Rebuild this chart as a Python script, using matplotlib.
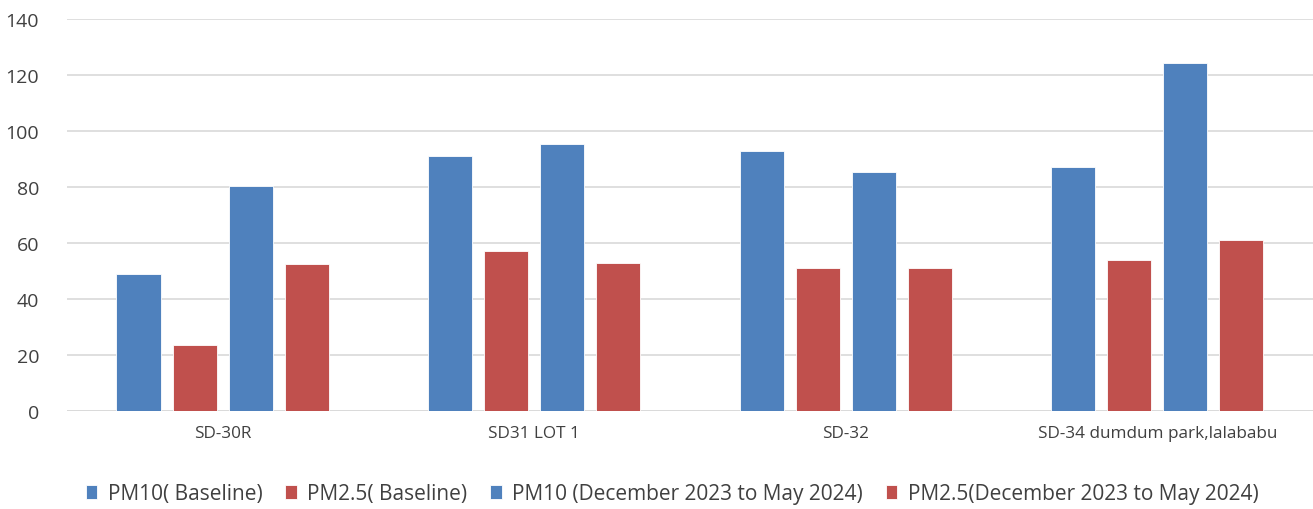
import numpy as np
import matplotlib.pyplot as plt

plt.rcParams['font.family'] = ['Open Sans', 'DejaVu Sans']

# data
sites = ['SD-30R', 'SD31 LOT 1', 'SD-32', 'SD-34 dumdum park,lalababu']
series_names = ['PM10( Baseline)', 'PM2.5( Baseline)',
                'PM10 (December 2023 to May 2024)', 'PM2.5(December 2023 to May 2024)']
pm10_base = [48.8, 91.0, 93.0, 87.1]
pm25_base = [23.7, 57.0, 51.0, 54.0]
pm10_dec_may = [80.2, 95.5, 85.5, 124.4]
pm25_dec_may = [52.6, 53.0, 51.0, 61.0]
colors = ['#4F81BD', '#C0504D', '#4F81BD', '#C0504D']

fig = plt.figure(figsize=(13.13, 5.10), dpi=100)
ax = fig.add_axes([0.051, 0.192, 0.949, 0.769])

x = np.arange(len(sites))
width = 0.142
step = 0.18
all_series = [pm10_base, pm25_base, pm10_dec_may, pm25_dec_may]
for i, vals in enumerate(all_series):
    offset = (i - 1.5) * step
    ax.bar(x + offset, vals, width, color=colors[i], label=series_names[i],
           edgecolor='white', linewidth=0.6, zorder=3)

ax.set_xlim(-0.5, len(sites) - 0.5)
ax.set_ylim(0, 140)
ax.set_yticks(np.arange(0, 141, 20))
ax.set_xticks(x)
ax.set_xticklabels(sites)
ax.yaxis.grid(True, color='#D9D9D9', linewidth=1.2, zorder=0)
for s in ['top', 'right', 'left', 'bottom']:
    ax.spines[s].set_visible(False)
ax.axhline(0, color='#D9D9D9', linewidth=1.2, zorder=2)
ax.tick_params(axis='both', length=0, labelcolor='#404040')
ax.tick_params(axis='x', pad=10, labelsize=12.3)
ax.tick_params(axis='y', pad=20, labelsize=14)

fig.legend(loc='center', bbox_to_anchor=(0.512, 0.03), ncol=4, frameon=False,
           fontsize=15, handlelength=0.55, handleheight=0.7, handletextpad=0.5,
           columnspacing=1.1, labelcolor='#404040')

plt.savefig('out.png', dpi=100)
